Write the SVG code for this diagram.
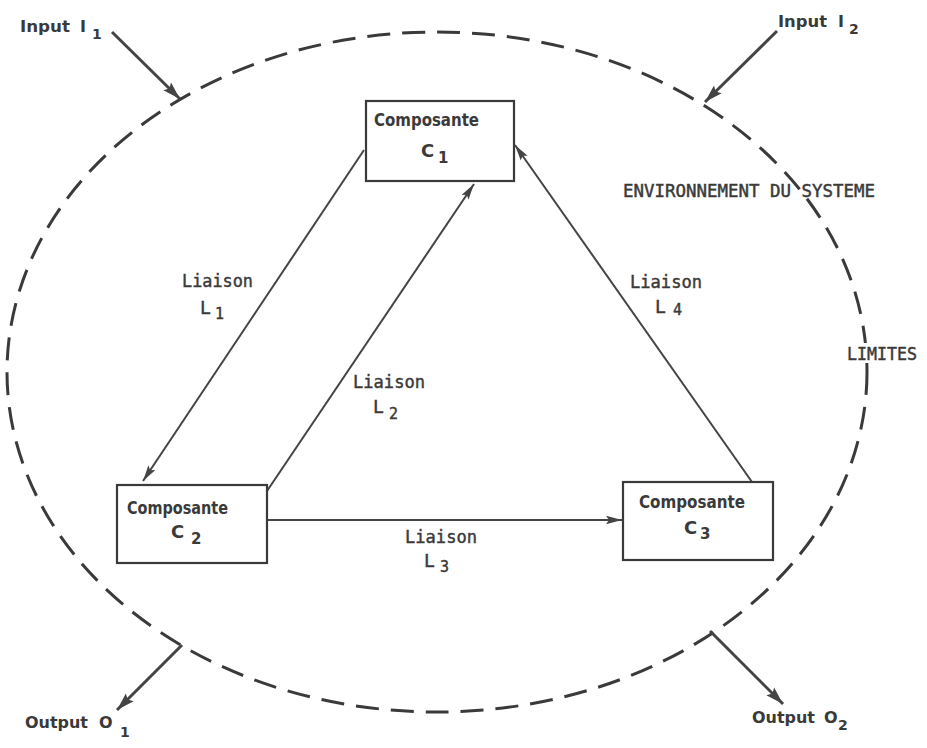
<svg xmlns="http://www.w3.org/2000/svg" width="927" height="748" viewBox="0 0 927 748">
  <style>
    .box { fill: #fff; stroke: #3a3a3a; stroke-width: 2.2; }
    .link { stroke: #444; stroke-width: 2; fill: none; }
    .io { stroke: #444; stroke-width: 3; fill: none; }
    .bound { fill: none; stroke: #3a3a3a; stroke-width: 3; stroke-dasharray: 23 12; }
    .sans { font-family: "DejaVu Sans", "Liberation Sans", sans-serif; font-weight: bold; fill: #3a3a3a; }
    .mono { font-family: "DejaVu Sans Mono", "Liberation Mono", monospace; fill: #3a3a3a; stroke: #3a3a3a; stroke-width: 0.45; }
  </style>
  <defs>
    <marker id="arrow" markerUnits="userSpaceOnUse" markerWidth="18" markerHeight="10" refX="16" refY="5" orient="auto">
      <path d="M0,0.8 L16,5 L0,9.2 L3,5 Z" fill="#444"/>
    </marker>
    <marker id="arrowBig" markerUnits="userSpaceOnUse" markerWidth="20" markerHeight="12" refX="18" refY="6" orient="auto">
      <path d="M0,0.5 L18,6 L0,11.5 L3,6 Z" fill="#444"/>
    </marker>
  </defs>
  <rect width="927" height="748" fill="#fff"/>

  <!-- system boundary -->
  <g id="boundary">
    <ellipse class="bound" cx="437" cy="372" rx="430" ry="340"/>
    <text class="mono" x="623" y="197" font-size="17" textLength="252" lengthAdjust="spacingAndGlyphs">ENVIRONNEMENT DU SYSTEME</text>
    <!-- clear the dashed outline where the LIMITES label sits -->
    <rect x="858" y="343" width="14" height="20" fill="#fff"/>
    <text class="mono" x="847" y="360" font-size="17" textLength="70" lengthAdjust="spacingAndGlyphs">LIMITES</text>
  </g>

  <!-- connectors -->
  <g id="connectors">
    <line class="link" x1="364" y1="150" x2="143" y2="481" marker-end="url(#arrow)"/>
    <line class="link" x1="267" y1="491" x2="474" y2="184" marker-end="url(#arrow)"/>
    <line class="link" x1="267" y1="520" x2="622" y2="520" marker-end="url(#arrow)"/>
    <line class="link" x1="752" y1="482" x2="515" y2="145" marker-end="url(#arrow)"/>
    <line class="io" x1="112" y1="32" x2="180" y2="99" marker-end="url(#arrowBig)"/>
    <line class="io" x1="777" y1="31" x2="705" y2="102" marker-end="url(#arrowBig)"/>
    <line class="io" x1="182" y1="645" x2="117" y2="710" marker-end="url(#arrowBig)"/>
    <line class="io" x1="710" y1="631" x2="783" y2="704" marker-end="url(#arrowBig)"/>
  </g>

  <!-- link labels -->
  <g id="labels">
    <text class="mono" x="182" y="287" font-size="18" textLength="71" lengthAdjust="spacingAndGlyphs">Liaison</text>
    <text class="mono" x="200" y="314" font-size="18">L</text>
    <text class="mono" x="215" y="319" font-size="15">1</text>
    <text class="mono" x="353" y="388" font-size="18" textLength="72" lengthAdjust="spacingAndGlyphs">Liaison</text>
    <text class="mono" x="373" y="413" font-size="18">L</text>
    <text class="mono" x="389" y="419" font-size="15">2</text>
    <text class="mono" x="405" y="543" font-size="18" textLength="72" lengthAdjust="spacingAndGlyphs">Liaison</text>
    <text class="mono" x="424" y="567" font-size="18">L</text>
    <text class="mono" x="440" y="572" font-size="15">3</text>
    <text class="mono" x="630" y="288" font-size="18" textLength="72" lengthAdjust="spacingAndGlyphs">Liaison</text>
    <text class="mono" x="655" y="313" font-size="18">L</text>
    <text class="mono" x="673" y="315" font-size="15">4</text>
  </g>

  <!-- inputs / outputs -->
  <g id="input1">
    <text class="sans" x="20" y="32" font-size="15" textLength="50" lengthAdjust="spacingAndGlyphs">Input</text>
    <text class="sans" x="80" y="32" font-size="16">I</text>
    <text class="sans" x="92" y="39" font-size="14">1</text>
  </g>
  <g id="input2">
    <text class="sans" x="778" y="27" font-size="15" textLength="49" lengthAdjust="spacingAndGlyphs">Input</text>
    <text class="sans" x="838" y="27" font-size="16">I</text>
    <text class="sans" x="849" y="34" font-size="14">2</text>
  </g>
  <g id="output1">
    <text class="sans" x="25" y="728" font-size="15" textLength="63" lengthAdjust="spacingAndGlyphs">Output</text>
    <text class="sans" x="99" y="728" font-size="16">O</text>
    <text class="sans" x="120" y="737" font-size="14">1</text>
  </g>
  <g id="output2">
    <text class="sans" x="752" y="723" font-size="15" textLength="63" lengthAdjust="spacingAndGlyphs">Output</text>
    <text class="sans" x="824" y="723" font-size="16">O</text>
    <text class="sans" x="838" y="730" font-size="14">2</text>
  </g>

  <!-- components -->
  <g id="c1">
    <rect class="box" x="366" y="101" width="148" height="80"/>
    <text class="sans" x="374" y="126" font-size="17" textLength="105" lengthAdjust="spacingAndGlyphs">Composante</text>
    <text class="sans" x="421" y="157" font-size="18">C</text>
    <text class="sans" x="438" y="163" font-size="15">1</text>
  </g>
  <g id="c2">
    <rect class="box" x="117" y="485" width="150" height="78"/>
    <text class="sans" x="127" y="514" font-size="17" textLength="101" lengthAdjust="spacingAndGlyphs">Composante</text>
    <text class="sans" x="171" y="538" font-size="18">C</text>
    <text class="sans" x="191" y="544" font-size="15">2</text>
  </g>
  <g id="c3">
    <rect class="box" x="623" y="482" width="150" height="78"/>
    <text class="sans" x="639" y="508" font-size="17" textLength="106" lengthAdjust="spacingAndGlyphs">Composante</text>
    <text class="sans" x="684" y="534" font-size="18">C</text>
    <text class="sans" x="700" y="539" font-size="15">3</text>
  </g>
</svg>
